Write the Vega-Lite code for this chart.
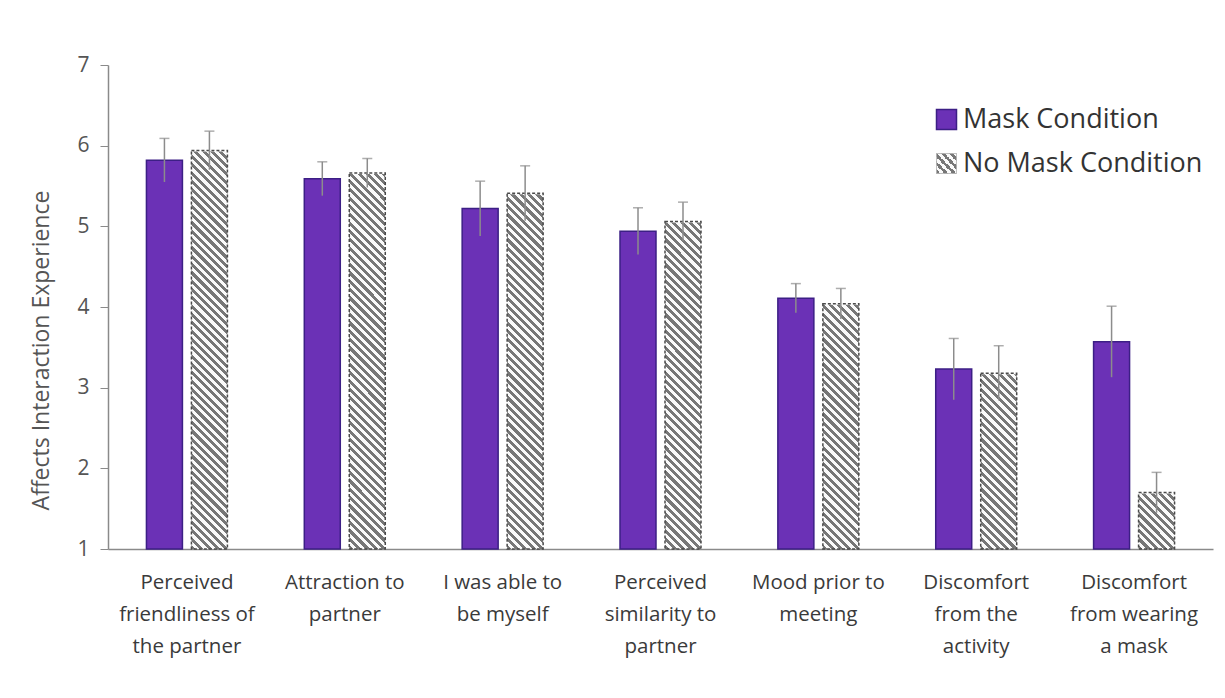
{
  "$schema": "https://vega.github.io/schema/vega-lite/v6.json",
  "width": 1105,
  "height": 484,
  "autosize": {"type": "none"},
  "padding": {"left": 108, "top": 65, "right": 12, "bottom": 149},
  "background": "white",
  "config": {"view": {"stroke": null}, "font": "Open Sans"},
  "data": {
    "values": [
      {"item": "Perceived friendliness of the partner", "condition": "Mask Condition", "value": 5.82, "low": 5.55, "high": 6.09},
      {"item": "Perceived friendliness of the partner", "condition": "No Mask Condition", "value": 5.94, "low": 5.70, "high": 6.18},
      {"item": "Attraction to partner", "condition": "Mask Condition", "value": 5.59, "low": 5.38, "high": 5.80},
      {"item": "Attraction to partner", "condition": "No Mask Condition", "value": 5.66, "low": 5.48, "high": 5.84},
      {"item": "I was able to be myself", "condition": "Mask Condition", "value": 5.22, "low": 4.88, "high": 5.56},
      {"item": "I was able to be myself", "condition": "No Mask Condition", "value": 5.41, "low": 5.07, "high": 5.75},
      {"item": "Perceived similarity to partner", "condition": "Mask Condition", "value": 4.94, "low": 4.65, "high": 5.23},
      {"item": "Perceived similarity to partner", "condition": "No Mask Condition", "value": 5.06, "low": 4.82, "high": 5.30},
      {"item": "Mood prior to meeting", "condition": "Mask Condition", "value": 4.11, "low": 3.93, "high": 4.29},
      {"item": "Mood prior to meeting", "condition": "No Mask Condition", "value": 4.04, "low": 3.85, "high": 4.23},
      {"item": "Discomfort from the activity", "condition": "Mask Condition", "value": 3.23, "low": 2.85, "high": 3.61},
      {"item": "Discomfort from the activity", "condition": "No Mask Condition", "value": 3.18, "low": 2.84, "high": 3.52},
      {"item": "Discomfort from wearing a mask", "condition": "Mask Condition", "value": 3.57, "low": 3.13, "high": 4.01},
      {"item": "Discomfort from wearing a mask", "condition": "No Mask Condition", "value": 1.70, "low": 1.45, "high": 1.95}
    ]
  },
  "encoding": {
    "x": {
      "field": "item", "type": "nominal", "sort": null,
      "scale": {"paddingInner": 0.487, "paddingOuter": 0.2435},
      "axis": {
        "title": null, "ticks": false, "domainColor": "#8a8a8a", "domainWidth": 1.5,
        "labelFontSize": 20.5, "labelColor": "#3a3a3a", "labelPadding": 23, "labelLineHeight": 32,
        "labelAngle": 0, "labelLimit": 0,
        "labelExpr": "datum.value == 'Perceived friendliness of the partner' ? ['Perceived','friendliness of','the partner'] : datum.value == 'Attraction to partner' ? ['Attraction to','partner'] : datum.value == 'I was able to be myself' ? ['I was able to','be myself'] : datum.value == 'Perceived similarity to partner' ? ['Perceived','similarity to','partner'] : datum.value == 'Mood prior to meeting' ? ['Mood prior to','meeting'] : datum.value == 'Discomfort from the activity' ? ['Discomfort','from the','activity'] : ['Discomfort','from wearing','a mask']"
      }
    },
    "xOffset": {
      "field": "condition", "type": "nominal",
      "scale": {"domain": ["Mask Condition", "No Mask Condition"], "paddingInner": 0.2, "paddingOuter": 0}
    }
  },
  "layer": [
    {
      "transform": [{"filter": "datum.condition === 'Mask Condition'"}],
      "mark": {"type": "bar", "stroke": "#3c1f85", "strokeWidth": 1.5},
      "encoding": {
        "y": {
          "field": "value", "type": "quantitative",
          "scale": {"domain": [1, 7], "zero": false, "nice": false},
          "axis": {
            "values": [1, 2, 3, 4, 5, 6, 7], "format": "d", "grid": false,
            "domainColor": "#8a8a8a", "domainWidth": 1.5, "tickColor": "#8a8a8a", "tickSize": 8,
            "labelFontSize": 21, "labelColor": "#555555", "labelPadding": 11,
            "title": "Affects Interaction Experience", "titleFontSize": 23, "titleFontWeight": "normal",
            "titleColor": "#555555", "titleX": -55, "titleY": 285
          }
        },
        "y2": {"datum": 1},
        "color": {
          "field": "condition", "type": "nominal",
          "scale": {"domain": ["Mask Condition"], "range": ["#6b31b6"]},
          "legend": {
            "orient": "none", "legendX": 825, "legendY": 41, "title": null, "padding": 0,
            "symbolType": "square", "symbolSize": 400, "symbolStrokeWidth": 1.5,
            "labelFontSize": 27, "labelColor": "#333333", "labelOffset": 3, "labelLimit": 0
          }
        }
      }
    },
    {
      "transform": [{"filter": "datum.condition === 'No Mask Condition'"}],
      "mark": {"type": "bar", "strokeWidth": 0, "fill": {"gradient": "linear", "x1": 0, "y1": 1, "x2": 0.0795, "y2": -0.0685, "stops": [
        {"offset":0,"color":"#777"},{"offset":0.008,"color":"#777"},{"offset":0.008,"color":"#fafafa"},{"offset":0.016,"color":"#fafafa"},
        {"offset":0.016,"color":"#777"},{"offset":0.024,"color":"#777"},{"offset":0.024,"color":"#fafafa"},{"offset":0.032,"color":"#fafafa"},
        {"offset":0.032,"color":"#777"},{"offset":0.04,"color":"#777"},{"offset":0.04,"color":"#fafafa"},{"offset":0.048,"color":"#fafafa"},
        {"offset":0.048,"color":"#777"},{"offset":0.056,"color":"#777"},{"offset":0.056,"color":"#fafafa"},{"offset":0.064,"color":"#fafafa"},
        {"offset":0.064,"color":"#777"},{"offset":0.072,"color":"#777"},{"offset":0.072,"color":"#fafafa"},{"offset":0.08,"color":"#fafafa"},
        {"offset":0.08,"color":"#777"},{"offset":0.088,"color":"#777"},{"offset":0.088,"color":"#fafafa"},{"offset":0.096,"color":"#fafafa"},
        {"offset":0.096,"color":"#777"},{"offset":0.104,"color":"#777"},{"offset":0.104,"color":"#fafafa"},{"offset":0.112,"color":"#fafafa"},
        {"offset":0.112,"color":"#777"},{"offset":0.12,"color":"#777"},{"offset":0.12,"color":"#fafafa"},{"offset":0.128,"color":"#fafafa"},
        {"offset":0.128,"color":"#777"},{"offset":0.136,"color":"#777"},{"offset":0.136,"color":"#fafafa"},{"offset":0.144,"color":"#fafafa"},
        {"offset":0.144,"color":"#777"},{"offset":0.152,"color":"#777"},{"offset":0.152,"color":"#fafafa"},{"offset":0.16,"color":"#fafafa"},
        {"offset":0.16,"color":"#777"},{"offset":0.168,"color":"#777"},{"offset":0.168,"color":"#fafafa"},{"offset":0.176,"color":"#fafafa"},
        {"offset":0.176,"color":"#777"},{"offset":0.184,"color":"#777"},{"offset":0.184,"color":"#fafafa"},{"offset":0.192,"color":"#fafafa"},
        {"offset":0.192,"color":"#777"},{"offset":0.2,"color":"#777"},{"offset":0.2,"color":"#fafafa"},{"offset":0.208,"color":"#fafafa"},
        {"offset":0.208,"color":"#777"},{"offset":0.216,"color":"#777"},{"offset":0.216,"color":"#fafafa"},{"offset":0.224,"color":"#fafafa"},
        {"offset":0.224,"color":"#777"},{"offset":0.232,"color":"#777"},{"offset":0.232,"color":"#fafafa"},{"offset":0.24,"color":"#fafafa"},
        {"offset":0.24,"color":"#777"},{"offset":0.248,"color":"#777"},{"offset":0.248,"color":"#fafafa"},{"offset":0.256,"color":"#fafafa"},
        {"offset":0.256,"color":"#777"},{"offset":0.264,"color":"#777"},{"offset":0.264,"color":"#fafafa"},{"offset":0.272,"color":"#fafafa"},
        {"offset":0.272,"color":"#777"},{"offset":0.28,"color":"#777"},{"offset":0.28,"color":"#fafafa"},{"offset":0.288,"color":"#fafafa"},
        {"offset":0.288,"color":"#777"},{"offset":0.296,"color":"#777"},{"offset":0.296,"color":"#fafafa"},{"offset":0.304,"color":"#fafafa"},
        {"offset":0.304,"color":"#777"},{"offset":0.312,"color":"#777"},{"offset":0.312,"color":"#fafafa"},{"offset":0.32,"color":"#fafafa"},
        {"offset":0.32,"color":"#777"},{"offset":0.328,"color":"#777"},{"offset":0.328,"color":"#fafafa"},{"offset":0.336,"color":"#fafafa"},
        {"offset":0.336,"color":"#777"},{"offset":0.344,"color":"#777"},{"offset":0.344,"color":"#fafafa"},{"offset":0.352,"color":"#fafafa"},
        {"offset":0.352,"color":"#777"},{"offset":0.36,"color":"#777"},{"offset":0.36,"color":"#fafafa"},{"offset":0.368,"color":"#fafafa"},
        {"offset":0.368,"color":"#777"},{"offset":0.376,"color":"#777"},{"offset":0.376,"color":"#fafafa"},{"offset":0.384,"color":"#fafafa"},
        {"offset":0.384,"color":"#777"},{"offset":0.392,"color":"#777"},{"offset":0.392,"color":"#fafafa"},{"offset":0.4,"color":"#fafafa"},
        {"offset":0.4,"color":"#777"},{"offset":0.408,"color":"#777"},{"offset":0.408,"color":"#fafafa"},{"offset":0.416,"color":"#fafafa"},
        {"offset":0.416,"color":"#777"},{"offset":0.424,"color":"#777"},{"offset":0.424,"color":"#fafafa"},{"offset":0.432,"color":"#fafafa"},
        {"offset":0.432,"color":"#777"},{"offset":0.44,"color":"#777"},{"offset":0.44,"color":"#fafafa"},{"offset":0.448,"color":"#fafafa"},
        {"offset":0.448,"color":"#777"},{"offset":0.456,"color":"#777"},{"offset":0.456,"color":"#fafafa"},{"offset":0.464,"color":"#fafafa"},
        {"offset":0.464,"color":"#777"},{"offset":0.472,"color":"#777"},{"offset":0.472,"color":"#fafafa"},{"offset":0.48,"color":"#fafafa"},
        {"offset":0.48,"color":"#777"},{"offset":0.488,"color":"#777"},{"offset":0.488,"color":"#fafafa"},{"offset":0.496,"color":"#fafafa"},
        {"offset":0.496,"color":"#777"},{"offset":0.504,"color":"#777"},{"offset":0.504,"color":"#fafafa"},{"offset":0.512,"color":"#fafafa"},
        {"offset":0.512,"color":"#777"},{"offset":0.52,"color":"#777"},{"offset":0.52,"color":"#fafafa"},{"offset":0.528,"color":"#fafafa"},
        {"offset":0.528,"color":"#777"},{"offset":0.536,"color":"#777"},{"offset":0.536,"color":"#fafafa"},{"offset":0.544,"color":"#fafafa"},
        {"offset":0.544,"color":"#777"},{"offset":0.552,"color":"#777"},{"offset":0.552,"color":"#fafafa"},{"offset":0.56,"color":"#fafafa"},
        {"offset":0.56,"color":"#777"},{"offset":0.568,"color":"#777"},{"offset":0.568,"color":"#fafafa"},{"offset":0.576,"color":"#fafafa"},
        {"offset":0.576,"color":"#777"},{"offset":0.584,"color":"#777"},{"offset":0.584,"color":"#fafafa"},{"offset":0.592,"color":"#fafafa"},
        {"offset":0.592,"color":"#777"},{"offset":0.6,"color":"#777"},{"offset":0.6,"color":"#fafafa"},{"offset":0.608,"color":"#fafafa"},
        {"offset":0.608,"color":"#777"},{"offset":0.616,"color":"#777"},{"offset":0.616,"color":"#fafafa"},{"offset":0.624,"color":"#fafafa"},
        {"offset":0.624,"color":"#777"},{"offset":0.632,"color":"#777"},{"offset":0.632,"color":"#fafafa"},{"offset":0.64,"color":"#fafafa"},
        {"offset":0.64,"color":"#777"},{"offset":0.648,"color":"#777"},{"offset":0.648,"color":"#fafafa"},{"offset":0.656,"color":"#fafafa"},
        {"offset":0.656,"color":"#777"},{"offset":0.664,"color":"#777"},{"offset":0.664,"color":"#fafafa"},{"offset":0.672,"color":"#fafafa"},
        {"offset":0.672,"color":"#777"},{"offset":0.68,"color":"#777"},{"offset":0.68,"color":"#fafafa"},{"offset":0.688,"color":"#fafafa"},
        {"offset":0.688,"color":"#777"},{"offset":0.696,"color":"#777"},{"offset":0.696,"color":"#fafafa"},{"offset":0.704,"color":"#fafafa"},
        {"offset":0.704,"color":"#777"},{"offset":0.712,"color":"#777"},{"offset":0.712,"color":"#fafafa"},{"offset":0.72,"color":"#fafafa"},
        {"offset":0.72,"color":"#777"},{"offset":0.728,"color":"#777"},{"offset":0.728,"color":"#fafafa"},{"offset":0.736,"color":"#fafafa"},
        {"offset":0.736,"color":"#777"},{"offset":0.744,"color":"#777"},{"offset":0.744,"color":"#fafafa"},{"offset":0.752,"color":"#fafafa"},
        {"offset":0.752,"color":"#777"},{"offset":0.76,"color":"#777"},{"offset":0.76,"color":"#fafafa"},{"offset":0.768,"color":"#fafafa"},
        {"offset":0.768,"color":"#777"},{"offset":0.776,"color":"#777"},{"offset":0.776,"color":"#fafafa"},{"offset":0.784,"color":"#fafafa"},
        {"offset":0.784,"color":"#777"},{"offset":0.792,"color":"#777"},{"offset":0.792,"color":"#fafafa"},{"offset":0.8,"color":"#fafafa"},
        {"offset":0.8,"color":"#777"},{"offset":0.808,"color":"#777"},{"offset":0.808,"color":"#fafafa"},{"offset":0.816,"color":"#fafafa"},
        {"offset":0.816,"color":"#777"},{"offset":0.824,"color":"#777"},{"offset":0.824,"color":"#fafafa"},{"offset":0.832,"color":"#fafafa"},
        {"offset":0.832,"color":"#777"},{"offset":0.84,"color":"#777"},{"offset":0.84,"color":"#fafafa"},{"offset":0.848,"color":"#fafafa"},
        {"offset":0.848,"color":"#777"},{"offset":0.856,"color":"#777"},{"offset":0.856,"color":"#fafafa"},{"offset":0.864,"color":"#fafafa"},
        {"offset":0.864,"color":"#777"},{"offset":0.872,"color":"#777"},{"offset":0.872,"color":"#fafafa"},{"offset":0.88,"color":"#fafafa"},
        {"offset":0.88,"color":"#777"},{"offset":0.888,"color":"#777"},{"offset":0.888,"color":"#fafafa"},{"offset":0.896,"color":"#fafafa"},
        {"offset":0.896,"color":"#777"},{"offset":0.904,"color":"#777"},{"offset":0.904,"color":"#fafafa"},{"offset":0.912,"color":"#fafafa"},
        {"offset":0.912,"color":"#777"},{"offset":0.92,"color":"#777"},{"offset":0.92,"color":"#fafafa"},{"offset":0.928,"color":"#fafafa"},
        {"offset":0.928,"color":"#777"},{"offset":0.936,"color":"#777"},{"offset":0.936,"color":"#fafafa"},{"offset":0.944,"color":"#fafafa"},
        {"offset":0.944,"color":"#777"},{"offset":0.952,"color":"#777"},{"offset":0.952,"color":"#fafafa"},{"offset":0.96,"color":"#fafafa"},
        {"offset":0.96,"color":"#777"},{"offset":0.968,"color":"#777"},{"offset":0.968,"color":"#fafafa"},{"offset":0.976,"color":"#fafafa"},
        {"offset":0.976,"color":"#777"},{"offset":0.984,"color":"#777"},{"offset":0.984,"color":"#fafafa"},{"offset":0.992,"color":"#fafafa"},
        {"offset":0.992,"color":"#777"},{"offset":1,"color":"#777"}
      ]}},
      "encoding": {
        "y": {"datum": 7, "type": "quantitative"},
        "y2": {"datum": 1}
      }
    },
    {
      "transform": [{"filter": "datum.condition === 'No Mask Condition'"}],
      "mark": {"type": "bar", "fill": "white", "stroke": "white", "strokeWidth": 2},
      "encoding": {
        "y": {"field": "value", "type": "quantitative"},
        "y2": {"datum": 7}
      }
    },
    {
      "transform": [{"filter": "datum.condition === 'No Mask Condition'"}],
      "mark": {"type": "bar", "fill": "transparent", "stroke": "#4a4a4a", "strokeWidth": 1.5, "strokeDash": [3, 2]},
      "encoding": {
        "y": {"field": "value", "type": "quantitative"},
        "y2": {"datum": 1}
      }
    },
    {
      "transform": [{"filter": "datum.condition === 'Mask Condition'"}],
      "mark": {"type": "rule", "color": "#8c8c8c", "strokeWidth": 1.5},
      "encoding": {
        "y": {"field": "low", "type": "quantitative"},
        "y2": {"field": "high"}
      }
    },
    {
      "transform": [{"filter": "datum.condition === 'No Mask Condition'"}],
      "mark": {"type": "rule", "color": "#8c8c8c", "strokeWidth": 1.5},
      "encoding": {
        "y": {"field": "low", "type": "quantitative"},
        "y2": {"field": "high"},
        "strokeDash": {
          "field": "condition", "type": "nominal",
          "scale": {"domain": ["No Mask Condition"], "range": [[1, 0]]},
          "legend": {
            "orient": "none", "legendX": 825, "legendY": 85, "title": null, "padding": 0,
            "symbolType": "square", "symbolSize": 400, "symbolStrokeWidth": 1, "symbolStrokeColor": "#aaaaaa",
            "symbolFillColor": {"value": {"gradient": "linear", "x1": 0, "y1": 1, "x2": 1, "y2": 0, "stops": [
              {"offset": 0, "color": "#777"}, {"offset": 0.1, "color": "#777"}, {"offset": 0.1, "color": "#fafafa"}, {"offset": 0.2, "color": "#fafafa"},
              {"offset": 0.2, "color": "#777"}, {"offset": 0.3, "color": "#777"}, {"offset": 0.3, "color": "#fafafa"}, {"offset": 0.4, "color": "#fafafa"},
              {"offset": 0.4, "color": "#777"}, {"offset": 0.5, "color": "#777"}, {"offset": 0.5, "color": "#fafafa"}, {"offset": 0.6, "color": "#fafafa"},
              {"offset": 0.6, "color": "#777"}, {"offset": 0.7, "color": "#777"}, {"offset": 0.7, "color": "#fafafa"}, {"offset": 0.8, "color": "#fafafa"},
              {"offset": 0.8, "color": "#777"}, {"offset": 0.9, "color": "#777"}, {"offset": 0.9, "color": "#fafafa"}, {"offset": 1, "color": "#fafafa"}
            ]}},
            "labelFontSize": 27, "labelColor": "#333333", "labelOffset": 3, "labelLimit": 0
          }
        }
      }
    },
    {
      "mark": {"type": "tick", "color": "#8c8c8c", "thickness": 1.5, "size": 10},
      "encoding": {
        "y": {"field": "high", "type": "quantitative"}
      }
    }
  ]
}
